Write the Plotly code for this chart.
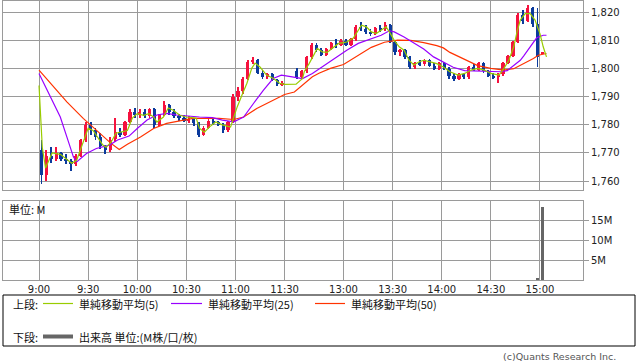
import plotly.graph_objects as go

# ---------------- data ----------------
# 3-minute candles: morning 9:00-11:27, afternoon 12:30-14:57, plus closing auction 15:00
opens = [
    1771, 1762, 1769, 1768, 1770, 1768, 1767, 1766, 1769, 1774.5,
    1780, 1778, 1775.5, 1772.5, 1771, 1775, 1777.5, 1776.5, 1781, 1784.5,
    1783.5, 1784.5, 1783, 1785.5, 1780, 1783.5, 1787, 1784.5, 1783, 1782.5,
    1781.5, 1782, 1780.5, 1776.5, 1779, 1781.5, 1781, 1780, 1778, 1781,
    1790, 1792, 1796.5, 1802.5, 1803, 1798.5, 1797, 1798, 1796, 1794.5,
    1799, 1797, 1799, 1804, 1808.5, 1806.5, 1805, 1807, 1809, 1808.5,
    1810, 1808.5, 1810.5, 1815, 1814, 1813, 1812.5, 1814.5, 1814, 1815.5,
    1809.5, 1806, 1806.5, 1804, 1800.5, 1802, 1801.5, 1803, 1801, 1800,
    1802, 1800, 1797.5, 1796.5, 1798, 1797, 1800.5, 1799.5, 1802, 1799,
    1797.5, 1797, 1798, 1802, 1804.5, 1809.5, 1819, 1817, 1821.5, 1816,
    1805.5]
highs = [
    1774.5, 1771, 1772, 1772, 1770.5, 1769.5, 1768, 1769.5, 1775, 1781,
    1781, 1779, 1777, 1773, 1775.5, 1782.5, 1779, 1781.5, 1785.5, 1786,
    1785.5, 1785.5, 1786, 1786, 1784, 1788.5, 1787.5, 1785.5, 1784, 1783.5,
    1783, 1782.5, 1781, 1779.5, 1782, 1782.5, 1781.5, 1780.5, 1781.5, 1791,
    1793.5, 1797, 1803, 1804, 1803.5, 1799.5, 1798.5, 1798.5, 1796.5, 1795.5,
    1800.2, 1799.5, 1804.5, 1809, 1809, 1807.5, 1807.5, 1809.5, 1810.5, 1810.5,
    1810.5, 1811, 1815.5, 1816.5, 1815.5, 1814, 1815, 1815.5, 1816.5, 1816,
    1810, 1807, 1807, 1804.5, 1802.5, 1803, 1803.5, 1803.5, 1802, 1802.5,
    1802.5, 1800.5, 1798.5, 1798.5, 1798.5, 1801, 1801.5, 1802.5, 1802.5, 1799.5,
    1798.5, 1798.5, 1802.5, 1805, 1810, 1820, 1821, 1822.5, 1822, 1821.5,
    1805.5]
lows = [
    1759, 1760, 1766.5, 1767, 1767, 1766, 1763.5, 1765.5, 1768.5, 1774,
    1776.5, 1774.5, 1771.5, 1769.5, 1770.5, 1774, 1775.5, 1776, 1780.5, 1782.5,
    1782.5, 1782.5, 1782.5, 1779, 1779.5, 1783, 1783.5, 1782.5, 1781.5, 1781,
    1780.5, 1779.5, 1775.5, 1776, 1778.5, 1780, 1779.5, 1777, 1777.5, 1780.5,
    1788.5, 1791, 1796, 1801.5, 1798, 1796.5, 1796.5, 1795.5, 1794, 1794,
    1796.5, 1796.5, 1798.5, 1803.5, 1806, 1804.5, 1804.5, 1806.5, 1807.5, 1808,
    1808, 1808, 1810, 1813.5, 1812.5, 1811.5, 1812, 1813, 1813.5, 1809,
    1805, 1804.5, 1803.5, 1800, 1800, 1801, 1801, 1800.5, 1799.5, 1799.5,
    1799.5, 1796.5, 1795.5, 1796, 1796.5, 1796.5, 1799, 1799, 1798.5, 1797,
    1796.5, 1795, 1797.5, 1801.5, 1804, 1809, 1816, 1816.5, 1815, 1800.5,
    1805.5]
closes = [
    1762, 1769, 1768, 1770, 1768, 1767, 1766, 1769, 1774.5, 1780,
    1778, 1775.5, 1772.5, 1771, 1774.5, 1777.5, 1776.5, 1781, 1784.5, 1783.5,
    1784.5, 1783, 1785.5, 1780, 1783.5, 1787, 1784.5, 1783, 1782.5, 1781.5,
    1782, 1780.5, 1776.5, 1779, 1781.5, 1781, 1780, 1778, 1781, 1790,
    1792, 1796.5, 1802.5, 1803, 1798.5, 1797, 1798, 1796, 1794.5, 1795,
    1797, 1799, 1804, 1808.5, 1806.5, 1805, 1807, 1809, 1808.5, 1810,
    1808.5, 1810.5, 1815, 1814, 1813, 1812.5, 1814.5, 1814, 1815.5, 1809.5,
    1806, 1806.5, 1804, 1800.5, 1802, 1801.5, 1803, 1801, 1800, 1802,
    1800, 1797.5, 1796.5, 1798, 1797, 1800.5, 1799.5, 1802, 1799, 1797.5,
    1797, 1798, 1802, 1804.5, 1809.5, 1819, 1817, 1821.5, 1816, 1804,
    1805.5]

ma5_times = ["9:00", "9:02", "9:04", "9:06", "9:08", "9:13", "9:16", "9:20", "9:23", "9:26",
             "9:28", "9:30", "9:33", "9:36", "9:39", "9:41", "9:44", "9:47", "9:50", "9:54",
             "9:57", "10:00", "10:04", "10:07", "10:10", "10:12", "10:16", "10:19", "10:22", "10:26",
             "10:30", "10:36", "10:38", "10:41", "10:44", "10:48", "10:52", "10:57", "10:59", "11:01",
             "11:04", "11:07", "11:10", "11:12", "11:15", "11:19", "11:23", "11:27", "11:30",
             "12:31", "12:35", "12:36", "12:39", "12:42", "12:44", "12:47", "12:50", "12:53", "12:57",
             "13:00", "13:02", "13:06", "13:09", "13:11", "13:14", "13:17", "13:20", "13:23", "13:26",
             "13:28", "13:31", "13:34", "13:37", "13:40", "13:43", "13:46", "13:49", "13:53", "13:57",
             "14:01", "14:05", "14:10", "14:14", "14:18", "14:22", "14:26", "14:30", "14:35", "14:38",
             "14:41", "14:44", "14:46", "14:48", "14:51", "14:54", "14:57", "15:00", "15:02", "15:04"]
ma5_values = [1794, 1772, 1764.6, 1767.4, 1770, 1769.5, 1768, 1766.3, 1767.4, 1772,
              1775.6, 1778.8, 1778, 1775.6, 1772.8, 1772, 1773.8, 1777, 1777.4, 1778,
              1782.4, 1784, 1783.4, 1784, 1782.8, 1781, 1782.8, 1786, 1785.2, 1783.4,
              1782.8, 1782.4, 1778.8, 1777.4, 1779.2, 1781, 1780, 1779.2, 1782.8, 1786.3,
              1790.6, 1794.8, 1800.2, 1802, 1800.6, 1797.7, 1796.6, 1794.8, 1794.4,
              1794.5, 1796.5, 1798.9, 1801.8, 1805.4, 1807.2, 1806, 1805.8, 1807.2, 1809,
              1809.3, 1809.5, 1810.9, 1813.7, 1815.5, 1814.9, 1813.1, 1812.5, 1813.7, 1814.9,
              1813.1, 1810.1, 1807.8, 1806.6, 1803, 1801.3, 1802.4, 1803, 1802.4, 1801.8,
              1800.6, 1798.9, 1797.7, 1798.3, 1799.5, 1800.1, 1799.5, 1798.3, 1797.7, 1800.1,
              1803, 1807.8, 1813.1, 1817.3, 1819.6, 1819.6, 1817.3, 1812.5, 1807.8, 1804.2]

ma25_times = ["9:00", "9:07", "9:13", "9:17", "9:21", "9:23", "9:29", "9:35", "9:43", "9:48",
              "9:55", "10:00", "10:06", "10:12", "10:18", "10:24", "10:30", "10:38", "10:46", "10:52",
              "10:59", "11:05", "11:11", "11:17", "11:23", "11:28", "11:30",
              "12:30", "12:35", "12:41", "12:44", "12:50", "12:56", "13:02", "13:09", "13:17",
              "13:23", "13:28", "13:31", "13:37", "13:43", "13:49", "13:55", "14:01", "14:07",
              "14:14", "14:22", "14:30", "14:36", "14:40", "14:44", "14:48", "14:50", "14:54",
              "14:58", "15:02", "15:04"]
ma25_values = [1798.3, 1790, 1782.8, 1775.7, 1768.6, 1766.8, 1769.8, 1771.6, 1772.8, 1774.6,
               1776, 1778.7, 1781.7, 1783.5, 1784.1, 1783.5, 1783.1, 1782.8, 1782.6, 1781.7,
               1781.1, 1782.8, 1787.6, 1792.3, 1796.5, 1797.7, 1797.5,
               1796.9, 1796.5, 1798.3, 1799.5, 1801.8, 1804.2, 1806.6, 1809, 1810.7,
               1811.9, 1813.5, 1813.1, 1811.3, 1809.2, 1807, 1804.2, 1802.3, 1800.5,
               1799.3, 1799.1, 1799.1, 1798.9, 1799.3, 1801.3, 1803, 1804.5, 1807.8,
               1811, 1811.9, 1811.9]

ma50_times = ["9:00", "9:07", "9:17", "9:27", "9:37", "9:44", "9:49", "9:54", "10:02", "10:10",
              "10:18", "10:26", "10:34", "10:42", "10:50", "10:59", "11:05", "11:13", "11:21", "11:29",
              "11:30", "12:30", "12:35", "12:41", "12:45", "12:52", "13:00", "13:09", "13:17", "13:25",
              "13:33", "13:41", "13:49", "13:57", "14:01", "14:05", "14:14", "14:22", "14:30", "14:38",
              "14:44", "14:50", "14:56", "14:59", "15:04"]
ma50_values = [1799.5, 1794.7, 1788.2, 1782.3, 1777, 1773.4, 1771.2, 1773.1, 1775.7, 1778.7,
               1780.5, 1781.4, 1782.3, 1782.3, 1782.3, 1781.9, 1782.8, 1785.8, 1788.2, 1790.6,
               1790.8, 1791.7, 1794.1, 1797.1, 1798.4, 1800.1, 1801.5, 1804.8, 1807.6, 1809.4,
               1810.2, 1810.1, 1809.3, 1808.2, 1807.4, 1805.8, 1803.2, 1801.1, 1800.1, 1799.5,
               1800, 1801.8, 1803.6, 1804.8, 1805.4]

vol_times = ["14:57", "15:00"]
vol_values = [0.4, 18.25]   # millions of shares

price_ticks = [1760, 1770, 1780, 1790, 1800, 1810, 1820]
vol_ticks = [5, 10, 15]
time_ticks = ["9:00", "9:30", "10:00", "10:30", "11:00", "11:30",
              "13:00", "13:30", "14:00", "14:30", "15:00"]

# ---------------- helpers ----------------
def to_unit(t):
    """session-time axis: morning 9:00-11:30, short break, afternoon from 12:30"""
    h, m = map(int, t.split(":"))
    mins = h * 60 + m
    if mins <= 11 * 60 + 30:
        return mins - 9 * 60
    return 156 + mins - (12 * 60 + 30)


candle_times = []
for start, end in ((9 * 60, 11 * 60 + 30), (12 * 60 + 30, 15 * 60)):
    for mm in range(start, end, 3):
        candle_times.append(f"{mm // 60}:{mm % 60:02d}")
candle_times.append("15:00")

cx = [to_unit(t) + 1.5 for t in candle_times]
UP, DOWN = "#f5123e", "#0b3a9c"
colors = [UP if c >= o else DOWN for o, c in zip(opens, closes)]
body_base = [min(o, c) for o, c in zip(opens, closes)]
body_h = [max(abs(c - o), 0.25) for o, c in zip(opens, closes)]
wick_h = [h - l for h, l in zip(highs, lows)]

GRID = "#9a9a9a"
FONT = "DejaVu Sans"
JP = "Noto Sans CJK JP"

fig = go.Figure()
fig.add_trace(go.Bar(x=cx, y=wick_h, base=lows, width=0.55,
                     marker=dict(color=colors, line=dict(width=0)),
                     xaxis="x", yaxis="y", showlegend=False, hoverinfo="skip"))
fig.add_trace(go.Bar(x=cx, y=body_h, base=body_base, width=2.0,
                     marker=dict(color=colors, line=dict(width=0)),
                     xaxis="x", yaxis="y", showlegend=False, hoverinfo="skip"))

for times, vals, col in ((ma50_times, ma50_values, "#ff3300"),
                         (ma25_times, ma25_values, "#9900ff"),
                         (ma5_times, ma5_values, "#99cc00")):
    fig.add_trace(go.Scatter(x=[to_unit(t) for t in times], y=vals, mode="lines",
                             line=dict(color=col, width=1.2),
                             xaxis="x", yaxis="y", showlegend=False, hoverinfo="skip"))

fig.add_trace(go.Bar(x=[to_unit(t) + 1.5 for t in vol_times], y=vol_values, width=1.9,
                     marker=dict(color="#666666", line=dict(width=0)),
                     xaxis="x2", yaxis="y2", showlegend=False, hoverinfo="skip"))

W, H = 638, 362
xdom = [3 / W, 583 / W]
xr = [-22, 332.3]
tv = [to_unit(t) for t in time_ticks]

common_x = dict(domain=xdom, range=xr, tickvals=tv, ticktext=time_ticks,
                showgrid=True, gridcolor=GRID, gridwidth=1, zeroline=False,
                showline=True, linecolor=GRID, linewidth=1, mirror=True)

fig.update_layout(
    width=W, height=H,
    margin=dict(l=0, r=0, t=0, b=0),
    paper_bgcolor="white", plot_bgcolor="white",
    barmode="overlay", bargap=0,
    showlegend=False,
    xaxis=dict(**common_x, showticklabels=False, ticks=""),
    xaxis2=dict(**common_x, anchor="y2", matches="x", showticklabels=True, ticks="",
                tickfont=dict(family=FONT, size=10, color="#222")),
    yaxis=dict(domain=[1 - 190 / H, 1 - 1 / H], range=[1756.8, 1824.1], side="right",
               tickvals=price_ticks, ticktext=[f"{v:,}" for v in price_ticks],
               ticks="outside", ticklen=5, tickcolor=GRID,
               showgrid=True, gridcolor=GRID, zeroline=False,
               showline=True, linecolor=GRID, mirror=True,
               tickfont=dict(family=FONT, size=10, color="#222")),
    yaxis2=dict(domain=[1 - 280 / H, 1 - 201 / H], range=[0, 19.75], side="right",
                anchor="x2",
                tickvals=vol_ticks, ticktext=[f"{v}M" for v in vol_ticks],
                ticks="outside", ticklen=5, tickcolor=GRID,
                showgrid=True, gridcolor=GRID, zeroline=False,
                showline=True, linecolor=GRID, mirror=True,
                tickfont=dict(family=FONT, size=10, color="#222")),
)

def px(x):
    return x / W

def py(y):
    return 1 - y / H

shapes = [
    dict(type="rect", xref="paper", yref="paper", x0=px(3), x1=px(635), y0=py(346), y1=py(295),
         line=dict(color="black", width=1)),
    dict(type="line", xref="paper", yref="paper", x0=px(43), x1=px(73), y0=py(303.5), y1=py(303.5),
         line=dict(color="#99cc00", width=1.2)),
    dict(type="line", xref="paper", yref="paper", x0=px(171), x1=px(202), y0=py(303.5), y1=py(303.5),
         line=dict(color="#9900ff", width=1.2)),
    dict(type="line", xref="paper", yref="paper", x0=px(315), x1=px(345), y0=py(303.5), y1=py(303.5),
         line=dict(color="#ff3300", width=1.2)),
    dict(type="line", xref="paper", yref="paper", x0=px(43), x1=px(73), y0=py(336.5), y1=py(336.5),
         line=dict(color="#666666", width=4)),
]
fig.update_layout(shapes=shapes)

def note(text, x, y, size=11, color="#111", family=JP, anchor="left"):
    fig.add_annotation(text=text, xref="paper", yref="paper", x=px(x), y=py(y),
                       xanchor=anchor, yanchor="middle", showarrow=False,
                       font=dict(family=family, size=size, color=color))

note("単位: M", 7, 209)
note("上段:", 11, 303.5)
note("単純移動平均(5)", 77, 303.5)
note("単純移動平均(25)", 206, 303.5)
note("単純移動平均(50)", 349, 303.5)
note("下段:", 11, 336.5)
note("出来高 単位:(M株/口/枚)", 77, 336.5)
note("(c)Quants Research Inc.", 618, 356, size=9.5, color="#555", family=FONT, anchor="right")

# remove the browser's default 8px body margin so the figure sits at the page origin
fig.write_html("out.html", config={"displayModeBar": False},
               post_script="document.body.style.margin='0';")
